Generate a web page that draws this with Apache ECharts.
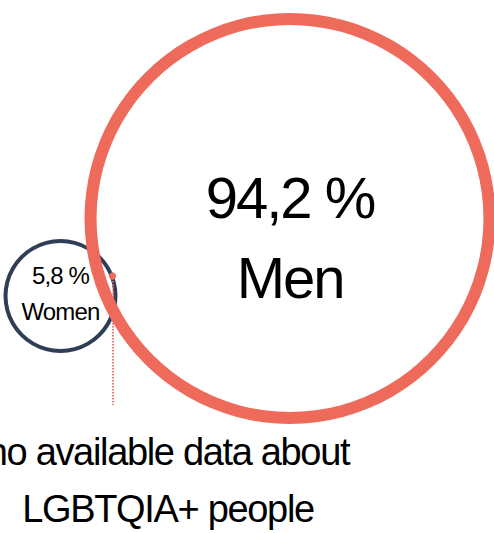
<!DOCTYPE html>
<html>
<head>
<meta charset="utf-8">
<script src="https://cdn.jsdelivr.net/npm/echarts@6/dist/echarts.min.js"></script>
<style>
  html, body { margin: 0; padding: 0; background: #ffffff; }
  #chart { width: 494px; height: 533px; }
  #chart text { letter-spacing: -0.035em; }
</style>
</head>
<body>
<div id="chart"></div>
<script>
// ---- data ----
var groups = ['Women', 'Men'];
var shares = [5.8, 94.2];
var noteLines = ['no available data about', 'LGBTQIA+ people'];

// ---- styling / layout ----
var colors = ['#2D3E56', '#EE6A5B'];
var centers = [[60.5, 296], [290, 218.5]];
var strokes = [4, 12];
var fontSizes = [24, 58];
var lineHeights = [36, 80];
var topSpacer = [1, 38];
var bottomSpacer = [7, 1];
var FONT = '"Liberation Sans", Arial, sans-serif';

function radiusOf(v) { return 7.3 + 19.8 * Math.sqrt(v); }
function fmt(v) { return String(v).replace('.', ',') + ' %'; }

var series = groups.map(function (g, i) {
  var r = radiusOf(shares[i]);
  return {
    type: 'pie',
    silent: true,
    animation: false,
    center: centers[i],
    radius: [r - strokes[i] / 2, r + strokes[i] / 2],
    z: i + 1,
    itemStyle: { color: colors[i] },
    label: {
      show: true,
      position: 'center',
      formatter: function () {
        return '{s| }\n{t|' + fmt(shares[i]) + '}\n{t|' + g + '}\n{b| }';
      },
      align: 'center',
      rich: {
        s: { fontSize: 1, lineHeight: topSpacer[i], fontFamily: FONT },
        b: { fontSize: 1, lineHeight: bottomSpacer[i], fontFamily: FONT },
        t: {
          fontFamily: FONT,
          fontSize: fontSizes[i],
          lineHeight: lineHeights[i],
          color: '#000',
          align: 'center'
        }
      }
    },
    labelLine: { show: false },
    emphasis: { disabled: true },
    data: [{ value: shares[i], name: g }]
  };
});

var chart = echarts.init(document.getElementById('chart'), null, { renderer: 'svg' });
chart.setOption({
  backgroundColor: '#ffffff',
  animation: false,
  series: series,
  graphic: [
    {
      type: 'line',
      z: 100,
      shape: { x1: 113, y1: 278, x2: 113, y2: 405 },
      style: { stroke: '#EE6A5B', lineWidth: 1.8, lineDash: [1.5, 1.5] }
    },
    {
      type: 'circle',
      z: 101,
      shape: { cx: 112.5, cy: 276, r: 3.6 },
      style: { fill: '#EE6A5B' }
    },
    {
      type: 'text',
      z: 100,
      x: 168,
      y: 480,
      style: {
        text: noteLines.join('\n'),
        fontFamily: FONT,
        fontSize: 38,
        lineHeight: 57,
        fill: '#000',
        align: 'center',
        verticalAlign: 'middle'
      }
    }
  ]
});
</script>
</body>
</html>
